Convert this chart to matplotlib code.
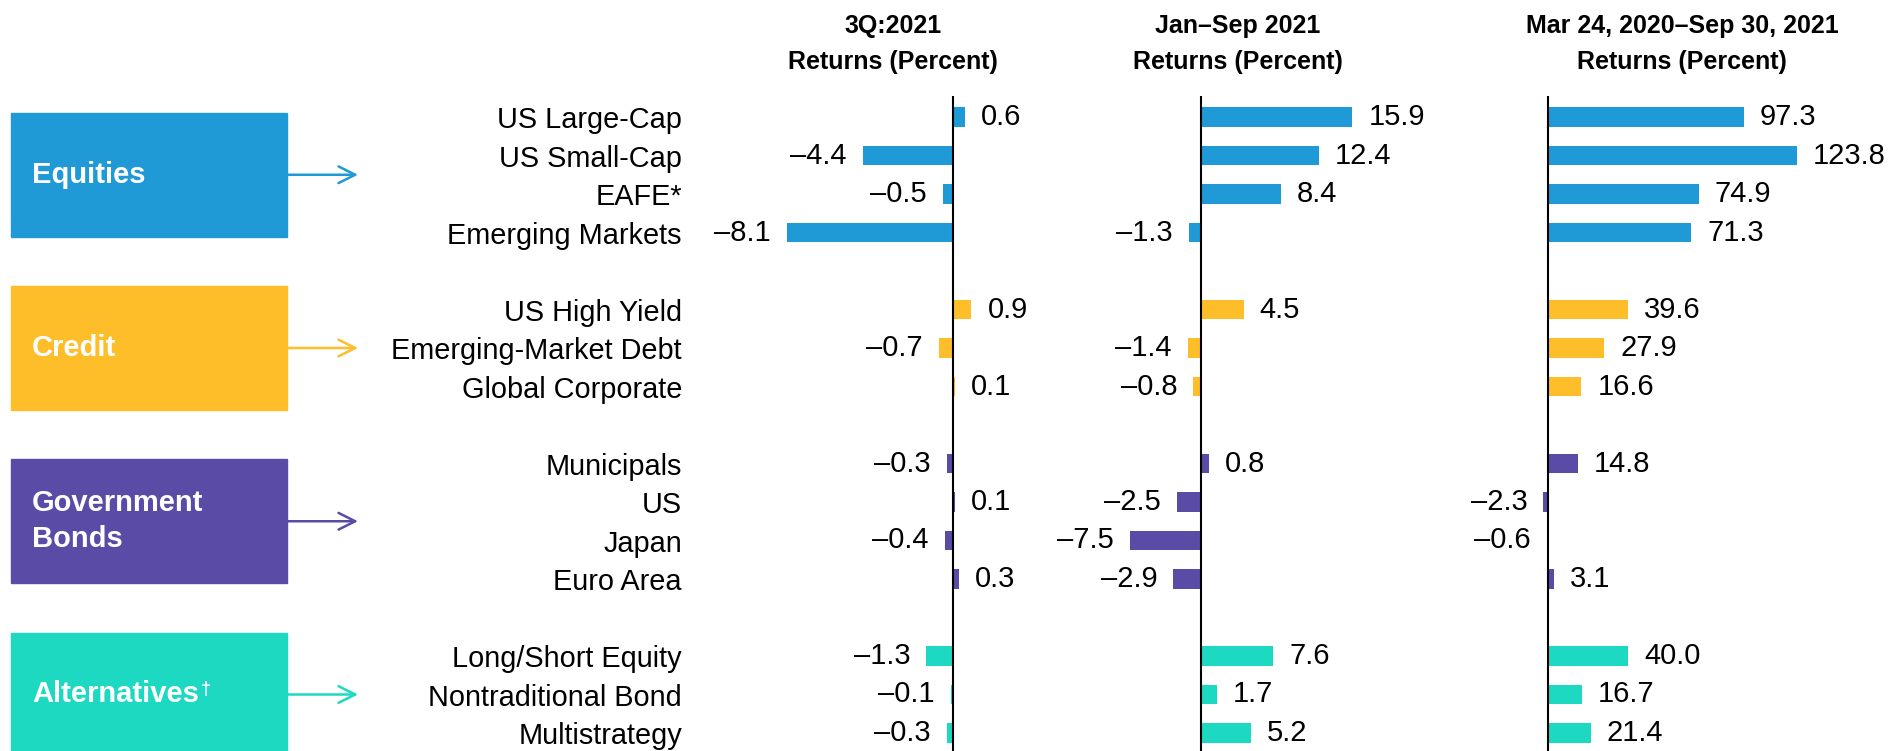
import matplotlib
matplotlib.use("Agg")
import matplotlib.pyplot as plt
from matplotlib.patches import Rectangle
from matplotlib.transforms import blended_transform_factory

plt.rcParams["font.family"] = ["Liberation Sans", "DejaVu Sans"]

# data
groups = ["Equities", "Credit", "Government\nBonds", "Alternatives"]
group_colors = ["#1f9ad6", "#fdbe29", "#5a4ba6", "#1dd9c1"]
assets = [
    ["US Large-Cap", "US Small-Cap", "EAFE*", "Emerging Markets"],
    ["US High Yield", "Emerging-Market Debt", "Global Corporate"],
    ["Municipals", "US", "Japan", "Euro Area"],
    ["Long/Short Equity", "Nontraditional Bond", "Multistrategy"],
]
titles = ["3Q:2021\nReturns (Percent)",
          "Jan\u2013Sep 2021\nReturns (Percent)",
          "Mar 24, 2020\u2013Sep 30, 2021\nReturns (Percent)"]
q3_2021 = [0.6, -4.4, -0.5, -8.1, 0.9, -0.7, 0.1, -0.3, 0.1, -0.4, 0.3, -1.3, -0.1, -0.3]
ytd_2021 = [15.9, 12.4, 8.4, -1.3, 4.5, -1.4, -0.8, 0.8, -2.5, -7.5, -2.9, 7.6, 1.7, 5.2]
since_mar20 = [97.3, 123.8, 74.9, 71.3, 39.6, 27.9, 16.6, 14.8, -2.3, -0.6, 3.1, 40.0, 16.7, 21.4]
series = [q3_2021, ytd_2021, since_mar20]

# row positions: one blank row between groups
rows, names, colors, centers = [], [], [], []
r = 0
for g, items in enumerate(assets):
    start = r
    for name in items:
        rows.append(r)
        names.append(name)
        colors.append(group_colors[g])
        r += 1
    centers.append((start + r - 1) / 2)
    r += 1

W, H = 1889, 751
fig = plt.figure(figsize=(W / 100, H / 100), dpi=100)

# pixel layout of each panel: left, right, zero position, px per unit
panels = [(700, 1100, 953, 20.5), (1110, 1480, 1201, 9.52), (1490, 1889, 1548, 2.01)]
title_x = [893, 1238, 1682]
row0_px, row_px, top_px = 117, 38.5, 96
ylim = ((H - row0_px) / row_px, (top_px - row0_px) / row_px)
axh = (H - top_px) / H

axes = []
for k, (x0, x1, z, s) in enumerate(panels):
    ax = fig.add_axes([x0 / W, 0, (x1 - x0) / W, axh])
    ax.barh(rows, series[k], height=0.5, color=colors)
    ax.set_xlim((x0 - z) / s, (x1 - z) / s)
    ax.set_ylim(*ylim)
    ax.axvline(0, color="black", lw=1.5)
    for sp in ax.spines.values():
        sp.set_visible(False)
    ax.set_xticks([])
    if k == 0:
        ax.set_yticks(rows, labels=names, fontsize=20.8)
        ax.tick_params(axis="y", length=0, pad=13)
        for lab in ax.get_yticklabels():
            lab.set_verticalalignment("center_baseline")
    else:
        ax.set_yticks([])
    for y, v in zip(rows, series[k]):
        txt = f"{v:.1f}" if v >= 0 else f"\u2013{abs(v):.1f}"
        ax.annotate(txt, xy=(v, y), xytext=(11.5 if v >= 0 else -11.5, 0),
                    textcoords="offset points", ha="left" if v >= 0 else "right",
                    va="center", fontsize=21, annotation_clip=False)
    fig.text(title_x[k] / W, 1 - 44 / H, titles[k], ha="center", va="center",
             fontsize=18, fontweight="bold", linespacing=1.6)
    axes.append(ax)

# group boxes with arrows
ax1 = axes[0]
trans = blended_transform_factory(fig.transFigure, ax1.transData)
box_h = 124 / row_px
for g, c in enumerate(centers):
    col = group_colors[g]
    ax1.add_patch(Rectangle((11 / W, c - box_h / 2), 276 / W, box_h, transform=trans,
                            color=col, clip_on=False))
    ax1.annotate("", xy=(358 / W, c), xycoords=trans, xytext=(287 / W, c), textcoords=trans,
                 arrowprops=dict(arrowstyle="->,head_length=1.2,head_width=0.6", color=col,
                                 lw=1.8, shrinkA=0, shrinkB=0), annotation_clip=False)
    t = ax1.text(32 / W, c, groups[g], transform=trans, color="white", fontsize=21,
                 fontweight="bold", ha="left", va="center", linespacing=1.35)
    if groups[g] == "Alternatives":
        ax1.annotate("\u2020", xy=(1, 1), xycoords=t, xytext=(1, 0), textcoords="offset points",
                     ha="left", va="top", color="white", fontsize=13, fontweight="bold")

fig.savefig("out.png", dpi=100)
